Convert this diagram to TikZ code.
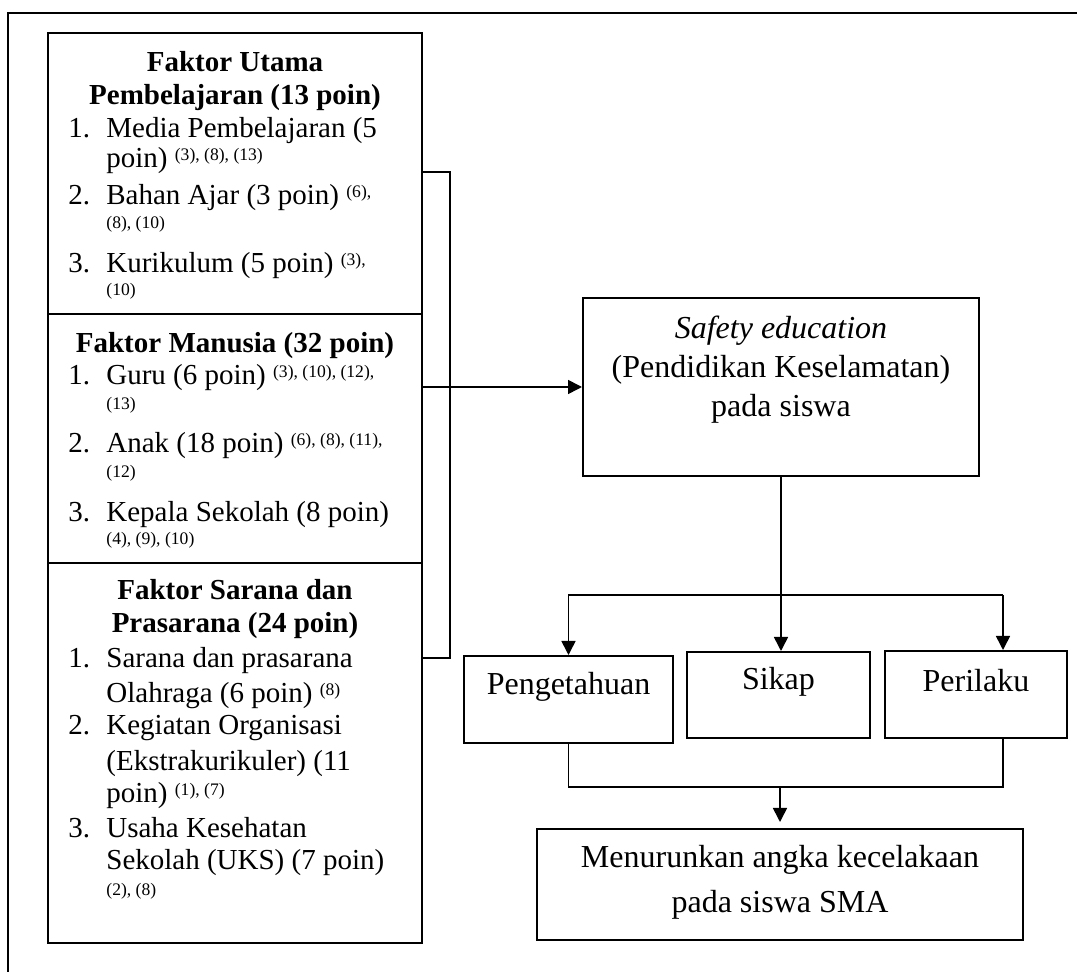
\documentclass[tikz,border=0pt]{standalone}
\usepackage{fontspec}
\setmainfont{Liberation Serif}
\usetikzlibrary{arrows.meta}
\newcommand{\kecil}{\fontsize{14.5}{17}\selectfont}
\newcommand{\besar}{\fontsize{16}{19}\selectfont}
\newcommand{\mini}{\fontsize{8.8}{10}\selectfont}
\newcommand{\rujukan}[1]{\raisebox{3.5pt}{\mini #1}}

\begin{document}
\begin{tikzpicture}[x=0.5pt,y=-0.5pt]
\tikzstyle{kotak}=[draw,line width=1pt,inner sep=0pt]
\tikzstyle{garis}=[line width=0.8pt]
\tikzstyle{panah}=[line width=0.8pt,-{Triangle[length=7pt,width=7pt]}]
\tikzstyle{teks}=[anchor=base,inner sep=0pt,font=\besar]
\tikzstyle{judul}=[anchor=base,inner sep=0pt,font=\kecil\bfseries]
\tikzstyle{isi}=[anchor=base west,inner sep=0pt,font=\kecil]
\tikzstyle{ruj}=[anchor=base west,inner sep=0pt,font=\mini]
\useasboundingbox (0,0) rectangle (1077,972);
\begin{scope}
\clip (0,0) rectangle (1077,972);
\draw[line width=0.85pt] (8,13) rectangle (1100,1000);
\end{scope}
% kotak kiri
\node[kotak,minimum width=187pt,minimum height=140.5pt] (utama) at (235,173.5) {};
\node[kotak,minimum width=187pt,minimum height=124.5pt] (manusia) at (235,438.5) {};
\node[kotak,minimum width=187pt,minimum height=190pt] (sarana) at (235,753) {};
% kotak kanan
\node[kotak,minimum width=198pt,minimum height=89pt] (safety) at (781,387) {};
\node[kotak,minimum width=104.5pt,minimum height=43.5pt] (peng) at (568.5,699.5) {};
\node[kotak,minimum width=91.5pt,minimum height=43pt] (sikap) at (778.5,695) {};
\node[kotak,minimum width=91pt,minimum height=43.5pt] (peril) at (976,694.5) {};
\node[kotak,minimum width=243pt,minimum height=55.5pt] (hasil) at (780,884.5) {};
% faktor utama
\node[judul] (j1a) at (235,72) {Faktor Utama};
\node[judul] (j1b) at (235,105) {Pembelajaran (13 poin)};
\node[isi] (n11) at (68,138) {1.};
\node[isi] (i11a) at (106,138) {Media Pembelajaran (5};
\node[isi] (i11b) at (106,168) {poin) \rujukan{(3), (8), (13)}};
\node[isi] (n12) at (68,205) {2.};
\node[isi] (i12a) at (106,205) {Bahan Ajar (3 poin) \rujukan{(6),}};
\node[ruj] (i12b) at (106,229) {(8), (10)};
\node[isi] (n13) at (68,273) {3.};
\node[isi] (i13a) at (106,273) {Kurikulum (5 poin) \rujukan{(3),}};
\node[ruj] (i13b) at (106,296) {(10)};
% faktor manusia
\node[judul] (j2) at (235,353) {Faktor Manusia (32 poin)};
\node[isi] (n21) at (68,385) {1.};
\node[isi] (i21a) at (106,385) {Guru (6 poin) \rujukan{(3), (10), (12),}};
\node[ruj] (i21b) at (106,410) {(13)};
\node[isi] (n22) at (68,453) {2.};
\node[isi] (i22a) at (106,453) {Anak (18 poin) \rujukan{(6), (8), (11),}};
\node[ruj] (i22b) at (106,478) {(12)};
\node[isi] (n23) at (68,522) {3.};
\node[isi] (i23a) at (106,522) {Kepala Sekolah (8 poin)};
\node[ruj] (i23b) at (106,545) {(4), (9), (10)};
% faktor sarana
\node[judul] (j3a) at (235,600) {Faktor Sarana dan};
\node[judul] (j3b) at (235,633) {Prasarana (24 poin)};
\node[isi] (n31) at (68,668) {1.};
\node[isi] (i31a) at (106,668) {Sarana dan prasarana};
\node[isi] (i31b) at (106,703) {Olahraga (6 poin) \rujukan{(8)}};
\node[isi] (n32) at (68,735) {2.};
\node[isi] (i32a) at (106,735) {Kegiatan Organisasi};
\node[isi] (i32b) at (106,770) {(Ekstrakurikuler) (11};
\node[isi] (i32c) at (106,803) {poin) \rujukan{(1), (7)}};
\node[isi] (n33) at (68,837) {3.};
\node[isi] (i33a) at (106,837) {Usaha Kesehatan};
\node[isi] (i33b) at (106,870) {Sekolah (UKS) (7 poin)};
\node[ruj] (i33c) at (106,895) {(2), (8)};
% teks kanan
\node[teks,font=\besar\itshape] (t1) at (781,339) {Safety education};
\node[teks] (t2) at (781,378) {(Pendidikan Keselamatan)};
\node[teks] (t3) at (781,417) {pada siswa};
\node[teks] (tp) at (568.5,695) {Pengetahuan};
\node[teks] (ts) at (778.5,690) {Sikap};
\node[teks] (tr) at (976,692) {Perilaku};
\node[teks] (th1) at (780,868) {Menurunkan angka kecelakaan};
\node[teks] (th2) at (780,913) {pada siswa SMA};
% garis
\coordinate (brA) at (450,172);
\coordinate (brB) at (450,658);
\coordinate (kanan) at (1003,595);
\coordinate (gabung) at (1003,787);
\draw[garis] (utama.east |- brA) -- (brA) -- (brB) -- (sarana.east |- brB);
\draw[panah] (manusia.east |- safety.west) -- (safety.west);
\draw[panah] (safety.south) -- (safety.south |- sikap.north);
\draw[panah] (kanan) -| (peng.north);
\draw[panah] (kanan) -- (kanan |- peril.north);
\draw[garis] (peng.south) |- (gabung) -- (gabung |- peril.south);
\draw[panah,shorten >=3pt] (hasil.north |- gabung) -- (hasil.north);
\end{tikzpicture}
\end{document}
